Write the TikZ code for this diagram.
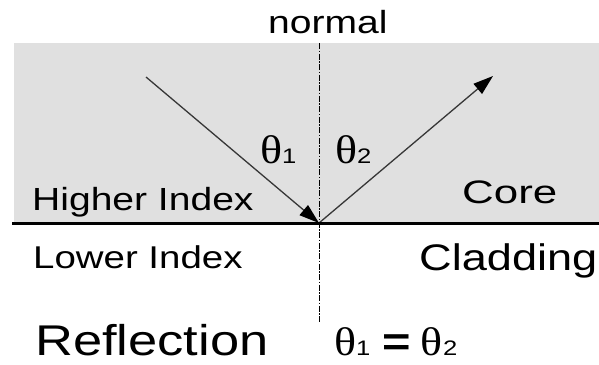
\documentclass[tikz,border=0pt]{standalone}
\usepackage{fontspec}
\setmainfont{Liberation Sans}
\newfontfamily\sfA[FakeStretch=1.22]{Liberation Sans}
\newfontfamily\sfCore[FakeStretch=1.35]{Liberation Sans}
\newfontfamily\grk[FakeStretch=1.15]{Liberation Serif}
\usetikzlibrary{arrows.meta}
\definecolor{coregray}{RGB}{224,224,224}
\definecolor{raygray}{RGB}{55,55,55}
\newcommand{\thsub}[1]{{\grk\fontsize{40}{40}\selectfont θ}{\sfA\fontsize{21}{21}\selectfont #1}}
\begin{document}
\begin{tikzpicture}[x=1pt,y=-1pt,
  lbl/.style={inner sep=0pt, anchor=base west, text=black},
  ray/.style={draw=raygray, line width=1.3pt, -{Triangle[length=20pt,width=13pt,color=black]}},
  normalline/.style={draw=black, line width=0.9pt, dash pattern=on 6pt off 1.5pt on 1.5pt off 1.5pt},
  interface/.style={draw=black, line width=3pt}]
\useasboundingbox (0,0) rectangle (599,364);
\fill[coregray] (14,43) rectangle (599,223);
% coordinates
\coordinate (ntop) at (319,43);
\coordinate (nbot) at (319,323);
\coordinate (hit) at (319,223);
\coordinate (src) at (146,77);
\coordinate (dst) at (493,76);
\coordinate (ifl) at (12,223);
\coordinate (ifr) at (599,223);
% normal
\draw[normalline] (ntop) -- (nbot);
% rays
\draw[ray] (src) -- (hit);
\draw[ray] (hit) -- (dst);
% interface
\draw[interface] (ifl) -- (ifr);
% labels
\node[lbl] (normal) at (268,33) {\sfA\fontsize{32}{32}\selectfont normal};
\node[lbl] (higher) at (32,210) {\sfA\fontsize{32}{32}\selectfont Higher Index};
\node[lbl] (lower) at (33,268) {\sfA\fontsize{31.5}{32}\selectfont Lower Index};
\node[lbl] (core) at (462,203) {\sfCore\fontsize{32.5}{32}\selectfont Core};
\node[lbl] (cladding) at (419,270) {\sfA\fontsize{37}{37}\selectfont Cladding};
\node[lbl] (reflection) at (35,355) {\sfA\fontsize{43}{43}\selectfont Reflection};
\node[lbl] (th1) at (260,163) {\thsub{1}};
\node[lbl] (th2) at (335,163) {\thsub{2}};
\node[lbl] (eq) at (334,355) {\thsub{1}\kern 12pt{\sfA\fontsize{40}{40}\selectfont\bfseries =}\kern 10pt\thsub{2}};
\end{tikzpicture}
\end{document}
